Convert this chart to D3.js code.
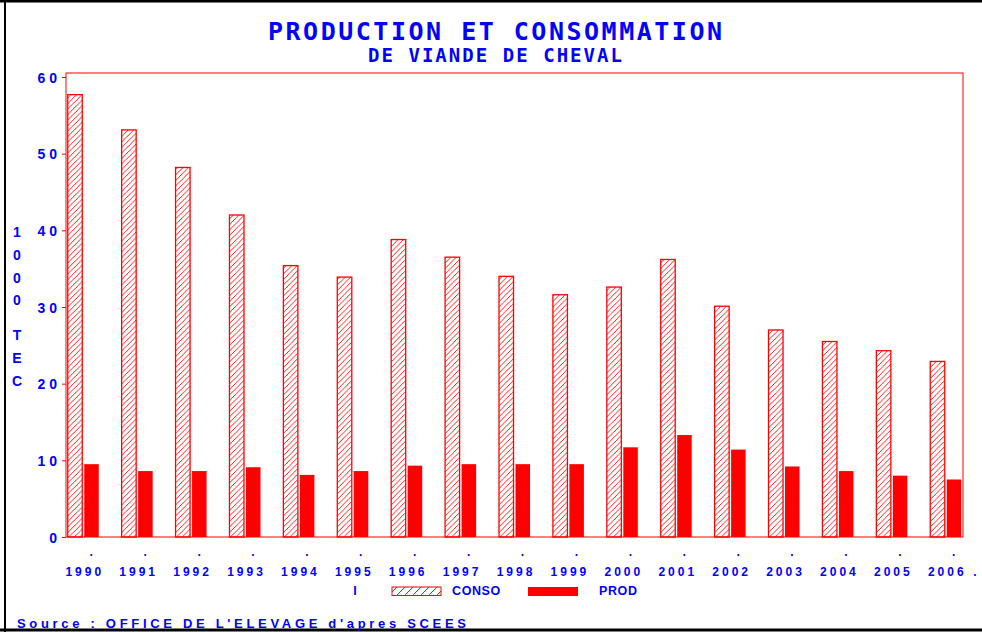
<!DOCTYPE html>
<html>
<head>
<meta charset="utf-8">
<script src="https://cdn.jsdelivr.net/npm/d3@7"></script>
<style>
  body { margin: 0; background: #fff; }
  svg { display: block; }
  text { font-family: "Liberation Sans", Arial, sans-serif; font-weight: bold; fill: #0000ff; }
</style>
</head>
<body>
<div id="chart"></div>
<script>
// data
var years = ["1990", "1991", "1992", "1993", "1994", "1995", "1996", "1997", "1998",
  "1999", "2000", "2001", "2002", "2003", "2004", "2005", "2006"];
var conso = [57.7, 53.1, 48.2, 42.0, 35.4, 33.9, 38.8, 36.5, 34.0, 31.6, 32.6, 36.2, 30.1, 27.0, 25.5, 24.3, 22.9];
var prod = [9.5, 8.6, 8.6, 9.1, 8.1, 8.6, 9.3, 9.5, 9.5, 9.5, 11.7, 13.3, 11.4, 9.2, 8.6, 8.0, 7.5];
var yTicks = [0, 10, 20, 30, 40, 50, 60];
var seriesNames = ["CONSO", "PROD"];
var yLabel = "1000TEC";

var W = 982, H = 632;
var frame = { left: 66, right: 963, top: 73, bottom: 537 };
var red = "#ff0000", blue = "#0000ff";

var svg = d3.select("#chart").append("svg").attr("width", W).attr("height", H);

// hatch pattern for the consumption bars
var defs = svg.append("defs");
defs.append("pattern").attr("id", "hatch").attr("patternUnits", "userSpaceOnUse")
  .attr("width", 5.5).attr("height", 5.5)
  .append("path").attr("d", "M-1,6.5 L6.5,-1 M-1,1 L1,-1 M4.5,6.5 L6.5,4.5")
  .attr("stroke", red).attr("stroke-width", 0.9);
defs.append("pattern").attr("id", "hatchLeg").attr("patternUnits", "userSpaceOnUse")
  .attr("width", 8).attr("height", 8)
  .append("path").attr("d", "M-1,9 L9,-1 M-1,1 L1,-1 M7,9 L9,7")
  .attr("stroke", red).attr("stroke-width", 0.9);

// page border (black)
svg.append("line").attr("x1", 0).attr("x2", W).attr("y1", 1).attr("y2", 1).attr("stroke", "#000").attr("stroke-width", 3);
svg.append("line").attr("x1", 5).attr("x2", 5).attr("y1", 0).attr("y2", H).attr("stroke", "#000").attr("stroke-width", 2);
svg.append("line").attr("x1", 0).attr("x2", W).attr("y1", 630).attr("y2", 630).attr("stroke", "#000").attr("stroke-width", 3);

var x = d3.scalePoint().domain(years).range([frame.left, frame.right]).padding(0.32);
var xs = d3.scaleBand().domain(seriesNames).range([-15.5, 15.5]).paddingInner(0.12);
var y = d3.scaleLinear().domain([0, 60]).range([frame.bottom, 77]);

// titles
svg.append("text").attr("x", 268).attr("y", 40)
  .attr("textLength", 454).attr("lengthAdjust", "spacing")
  .style("font-family", "'DejaVu Sans Mono', monospace").style("font-size", "25px")
  .text("PRODUCTION ET CONSOMMATION");
svg.append("text").attr("x", 368).attr("y", 62)
  .attr("textLength", 254).attr("lengthAdjust", "spacing")
  .style("font-family", "'DejaVu Sans Mono', monospace").style("font-size", "19px")
  .text("DE VIANDE DE CHEVAL");

// frame
svg.append("rect").attr("x", frame.left).attr("y", frame.top)
  .attr("width", frame.right - frame.left).attr("height", frame.bottom - frame.top)
  .attr("fill", "none").attr("stroke", red).attr("stroke-width", 1);

// y axis
var yAxis = svg.append("g").attr("transform", "translate(" + frame.left + ",0)")
  .call(d3.axisLeft(y).tickValues(yTicks).tickSize(4).tickPadding(1));
yAxis.select(".domain").remove();
yAxis.selectAll(".tick line").attr("stroke", red);
yAxis.selectAll(".tick text")
  .attr("fill", blue).style("font-size", "14px").style("letter-spacing", "4px")
  .style("font-family", "'Liberation Sans', Arial, sans-serif").attr("dy", "0.36em");

// vertical y label
svg.append("g").selectAll("text").data(yLabel.split("")).join("text")
  .attr("x", 17).attr("text-anchor", "middle")
  .attr("y", function (d, i) { return 237 + i * 22.8 + (i >= 4 ? 12 : 0); })
  .style("font-size", "14px")
  .text(function (d) { return d; });

// bars
var groups = svg.append("g").selectAll("g").data(years).join("g")
  .attr("transform", function (d) { return "translate(" + x(d) + ",0)"; });

groups.append("rect")
  .attr("x", xs("CONSO")).attr("width", xs.bandwidth())
  .attr("y", function (d, i) { return y(conso[i]); })
  .attr("height", function (d, i) { return y(0) - y(conso[i]); })
  .attr("fill", "url(#hatch)").attr("stroke", red).attr("stroke-width", 1.3);

groups.append("rect")
  .attr("x", xs("PROD")).attr("width", xs.bandwidth())
  .attr("y", function (d, i) { return y(prod[i]); })
  .attr("height", function (d, i) { return y(0) - y(prod[i]); })
  .attr("fill", red);

// x labels with the little dots above
groups.append("text").attr("x", 8).attr("y", 556).attr("text-anchor", "middle")
  .style("font-size", "12px").text(".");
groups.append("text").attr("x", 1.5).attr("y", 576).attr("text-anchor", "middle")
  .style("font-size", "12px").style("letter-spacing", "3px")
  .text(function (d) { return d; });
svg.append("text").attr("x", 975).attr("y", 576).attr("text-anchor", "middle")
  .style("font-size", "12px").text(".");

// legend
svg.append("text").attr("x", 355).attr("y", 595).attr("text-anchor", "middle").style("font-size", "12.5px").text("I");
svg.append("rect").attr("x", 392).attr("y", 587).attr("width", 49).attr("height", 8.5)
  .attr("fill", "url(#hatchLeg)").attr("stroke", red).attr("stroke-width", 1);
svg.append("text").attr("x", 452).attr("y", 595).style("font-size", "12.5px").style("letter-spacing", "0.6px").text(seriesNames[0]);
svg.append("rect").attr("x", 528).attr("y", 587).attr("width", 50).attr("height", 9).attr("fill", red);
svg.append("text").attr("x", 599).attr("y", 595).style("font-size", "12.5px").style("letter-spacing", "0.6px").text(seriesNames[1]);

// source
svg.append("text").attr("x", 17).attr("y", 628)
  .attr("textLength", 449).attr("lengthAdjust", "spacing")
  .style("font-size", "13px")
  .text("Source :  OFFICE DE L'ELEVAGE d'apres SCEES");
</script>
</body>
</html>
